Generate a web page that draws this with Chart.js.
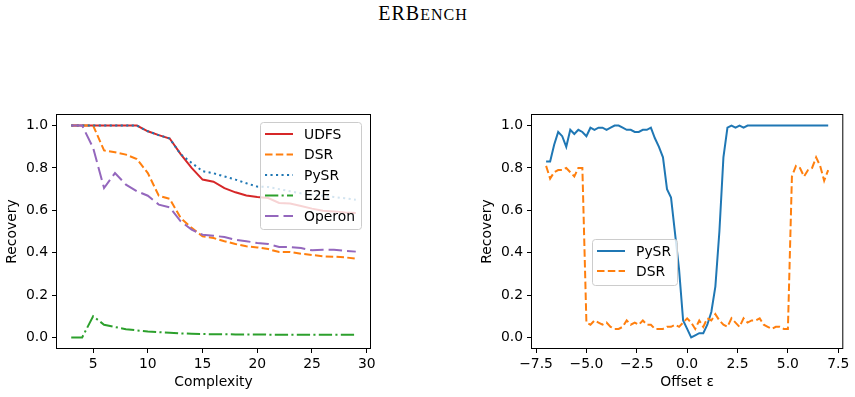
<!DOCTYPE html>
<html>
<head>
<meta charset="utf-8">
<script src="https://cdn.jsdelivr.net/npm/chart.js@4.4.0/dist/chart.umd.min.js"></script>
<style>
  html, body { margin: 0; padding: 0; background: #fff; }
  body { width: 855px; height: 397px; position: relative; overflow: hidden; }
  #title {
    position: absolute; left: 0; top: 2.5px; width: 846px; text-align: center;
    font-family: 'Liberation Serif', 'DejaVu Serif', serif; font-size: 20px; line-height: 20px;
    letter-spacing: 1px; color: #000;
  }
  #title span { font-size: 16px; }
  .panel { position: absolute; top: 100px; width: 380px; height: 297px; }
  #left { left: 0; }
  #right { left: 475px; }
</style>
</head>
<body>
<div id="title">ERB<span>ENCH</span></div>
<div class="panel" id="left"><canvas id="complexityChart"></canvas></div>
<div class="panel" id="right"><canvas id="offsetChart"></canvas></div>
<script>
// left panel: recovery rate vs. expression complexity
const complexity = [3, 4, 5, 6, 7, 8, 9, 10, 11, 12, 13, 14, 15, 16, 17, 18, 19, 20, 21, 22, 23, 24, 25, 26, 27, 28, 29];
const udfs   = [1, 1, 1, 1, 1, 1, 1, 0.973, 0.955, 0.939, 0.865, 0.80, 0.745, 0.735, 0.705, 0.685, 0.67, 0.663, 0.658, 0.635, 0.632, 0.62, 0.608, 0.598, 0.595, 0.59, 0.587];
const dsr    = [1, 1, 1, 0.883, 0.874, 0.863, 0.842, 0.776, 0.669, 0.654, 0.564, 0.517, 0.477, 0.469, 0.454, 0.441, 0.43, 0.425, 0.417, 0.403, 0.403, 0.395, 0.389, 0.383, 0.381, 0.378, 0.372];
const pysr   = [1, 1, 1, 1, 1, 1, 1, 0.973, 0.955, 0.939, 0.865, 0.824, 0.785, 0.775, 0.76, 0.745, 0.728, 0.712, 0.71, 0.70, 0.69, 0.68, 0.674, 0.669, 0.663, 0.657, 0.65];
const e2e    = [0, 0, 0.1, 0.06, 0.049, 0.039, 0.033, 0.028, 0.025, 0.022, 0.019, 0.017, 0.016, 0.015, 0.015, 0.014, 0.014, 0.014, 0.013, 0.013, 0.013, 0.013, 0.012, 0.012, 0.012, 0.012, 0.012];
const operon = [1, 1, 0.895, 0.705, 0.776, 0.721, 0.69, 0.669, 0.627, 0.614, 0.548, 0.509, 0.485, 0.48, 0.474, 0.461, 0.454, 0.446, 0.441, 0.427, 0.427, 0.422, 0.411, 0.414, 0.414, 0.409, 0.405];

// right panel: recovery rate vs. constant offset epsilon
const offsets = [-7.0, -6.8, -6.6, -6.4, -6.2, -6.0, -5.8, -5.6, -5.4, -5.2, -5.0, -4.8, -4.6, -4.4, -4.2, -4.0, -3.8, -3.6, -3.4, -3.2,
  -3.0, -2.8, -2.6, -2.4, -2.2, -2.0, -1.8, -1.6, -1.4, -1.2, -1.0, -0.8, -0.6, -0.4, -0.2, 0.0, 0.2, 0.4, 0.6, 0.8,
  1.0, 1.2, 1.4, 1.6, 1.8, 2.0, 2.2, 2.4, 2.6, 2.8, 3.0, 3.2, 3.4, 3.6, 3.8, 4.0, 4.2, 4.4, 4.6, 4.8,
  5.0, 5.2, 5.4, 5.6, 5.8, 6.0, 6.2, 6.4, 6.6, 6.8, 7.0];
const pysrOffset = [0.83, 0.83, 0.91, 0.97, 0.95, 0.90, 0.98, 0.96, 0.98, 0.97, 0.95, 0.99, 0.98, 0.99, 0.99, 0.98, 0.99, 1.0, 1.0, 0.99,
  0.98, 0.98, 0.97, 0.97, 0.98, 0.98, 0.99, 0.94, 0.90, 0.85, 0.70, 0.66, 0.49, 0.32, 0.08, 0.04, 0.0, 0.01, 0.02, 0.02,
  0.06, 0.12, 0.24, 0.50, 0.85, 0.99, 1.0, 0.99, 1.0, 0.99, 1.0, 1.0, 1.0, 1.0, 1.0, 1.0, 1.0, 1.0, 1.0, 1.0,
  1.0, 1.0, 1.0, 1.0, 1.0, 1.0, 1.0, 1.0, 1.0, 1.0, 1.0];
const dsrOffset = [0.81, 0.75, 0.78, 0.79, 0.79, 0.80, 0.78, 0.76, 0.80, 0.80, 0.07, 0.06, 0.08, 0.07, 0.06, 0.07, 0.05, 0.04, 0.04, 0.05,
  0.08, 0.06, 0.07, 0.06, 0.08, 0.06, 0.06, 0.04, 0.04, 0.04, 0.05, 0.05, 0.06, 0.05, 0.07, 0.09, 0.07, 0.04, 0.08, 0.05,
  0.09, 0.08, 0.11, 0.08, 0.06, 0.05, 0.09, 0.07, 0.05, 0.09, 0.07, 0.08, 0.08, 0.09, 0.06, 0.05, 0.04, 0.05, 0.05, 0.04,
  0.04, 0.76, 0.81, 0.80, 0.76, 0.79, 0.80, 0.85, 0.81, 0.74, 0.79];

const recoveryTicks = [0, 0.2, 0.4, 0.6, 0.8, 1.0];
const complexityTicks = [5, 10, 15, 20, 25, 30];
const offsetTicks = [-7.5, -5, -2.5, 0, 2.5, 5, 7.5];

const FONT_PX = 13.9;
Chart.defaults.font.family = "'DejaVu Sans', sans-serif";
Chart.defaults.font.size = FONT_PX;
Chart.defaults.color = '#000';
Chart.defaults.animation = false;

const pairs = (xs, ys) => xs.map((x, i) => ({ x: x, y: ys[i] }));
const fmt1 = (v) => Number(v).toFixed(1).replace('-', '\u2212');

const line = (label, xs, ys, color, dash, order) => ({
    label: label,
    data: pairs(xs, ys),
    borderColor: color,
    backgroundColor: color,
    borderWidth: 2,
    borderDash: dash,
    borderCapStyle: 'butt',
    pointRadius: 0,
    tension: 0,
    fill: false,
    order: order
});

// axes box on all four sides + matplotlib-style legend inside the plot
const frameAndLegend = {
    id: 'frameAndLegend',
    afterDatasetsDraw(chart, args, opts) {
        const { ctx, chartArea: a } = chart;
        ctx.save();
        ctx.strokeStyle = '#000';
        ctx.lineWidth = 1;
        ctx.strokeRect(a.left - 0.5, a.top - 0.5, a.right - a.left + 1, a.bottom - a.top + 1);

        const b = opts.box;
        ctx.beginPath();
        ctx.roundRect(b.x + 0.5, b.y + 0.5, b.w, b.h, 3);
        ctx.fillStyle = 'rgba(255,255,255,0.8)';
        ctx.fill();
        ctx.strokeStyle = '#cccccc';
        ctx.stroke();

        ctx.font = FONT_PX + "px 'DejaVu Sans', sans-serif";
        ctx.textBaseline = 'middle';
        ctx.fillStyle = '#000';
        chart.data.datasets.forEach((ds, i) => {
            const y = b.y + b.firstRow + i * b.rowGap;
            ctx.beginPath();
            ctx.setLineDash(ds.borderDash || []);
            ctx.strokeStyle = ds.borderColor;
            ctx.lineWidth = 2;
            ctx.moveTo(b.x + 5, y);
            ctx.lineTo(b.x + 33, y);
            ctx.stroke();
            ctx.setLineDash([]);
            ctx.fillText(ds.label, b.x + 44, y + 1);
        });
        ctx.restore();
    }
};

const axes = (xMin, xMax, xTicks, xFmt, xTitle) => ({
    x: {
        type: 'linear',
        min: xMin,
        max: xMax,
        afterBuildTicks: (s) => { s.ticks = xTicks.map((v) => ({ value: v })); },
        afterFit: (s) => { s.height = 49; },
        ticks: { padding: 3, maxRotation: 0, autoSkip: false, callback: xFmt },
        grid: { drawOnChartArea: false, tickLength: 5, tickColor: '#000', tickWidth: 1 },
        border: { display: false },
        title: { display: true, text: xTitle, padding: { top: 4, bottom: 6 } }
    },
    y: {
        type: 'linear',
        min: -0.05,
        max: 1.05,
        afterBuildTicks: (s) => { s.ticks = recoveryTicks.map((v) => ({ value: v })); },
        afterFit: (s) => { s.width = 57; },
        ticks: { padding: 4, autoSkip: false, callback: fmt1 },
        grid: { drawOnChartArea: false, tickLength: 5, tickColor: '#000', tickWidth: 1 },
        border: { display: false },
        title: { display: true, text: 'Recovery', padding: { top: 4, bottom: 4 } }
    }
});

new Chart(document.getElementById('complexityChart'), {
    type: 'line',
    data: {
        datasets: [
            line('UDFS', complexity, udfs, '#d62728', [], 5),
            line('DSR', complexity, dsr, '#ff7f0e', [7.5, 3.3], 4),
            line('PySR', complexity, pysr, '#1f77b4', [2.1, 3.4], 3),
            line('E2E', complexity, e2e, '#2ca02c', [13.3, 3.3, 2.1, 3.3], 2),
            line('Operon', complexity, operon, '#9467bd', [13.5, 5], 1)
        ]
    },
    options: {
        responsive: true,
        maintainAspectRatio: false,
        layout: { padding: { left: 0, right: 10, top: 15, bottom: 0 } },
        scales: axes(1.7, 30.3, complexityTicks, (v) => String(v), 'Complexity'),
        plugins: {
            legend: { display: false },
            tooltip: { enabled: false },
            frameAndLegend: { box: { x: 260, y: 22, w: 101, h: 107, firstRow: 12, rowGap: 20.5 } }
        }
    },
    plugins: [frameAndLegend]
});

new Chart(document.getElementById('offsetChart'), {
    type: 'line',
    data: {
        datasets: [
            line('PySR', offsets, pysrOffset, '#1f77b4', [], 2),
            line('DSR', offsets, dsrOffset, '#ff7f0e', [7.5, 3.3], 1)
        ]
    },
    options: {
        responsive: true,
        maintainAspectRatio: false,
        layout: { padding: { left: 0, right: 12.7, top: 15, bottom: 0 } },
        scales: axes(-7.7, 7.7, offsetTicks, fmt1, 'Offset \u03b5'),
        plugins: {
            legend: { display: false },
            tooltip: { enabled: false },
            frameAndLegend: { box: { x: 117, y: 139, w: 85, h: 46, firstRow: 12, rowGap: 20 } }
        }
    },
    plugins: [frameAndLegend]
});
</script>
</body>
</html>
